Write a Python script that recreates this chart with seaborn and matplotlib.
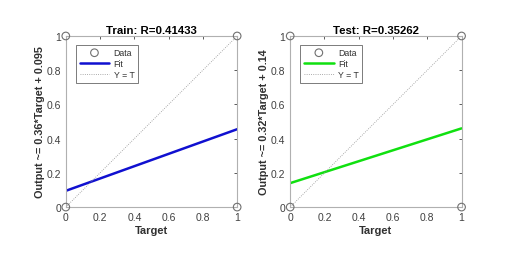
import numpy as np
import pandas as pd
import matplotlib
matplotlib.use("Agg")
import matplotlib.pyplot as plt
import seaborn as sns

# data
data_target = [0, 0, 1, 1]
data_output = [0, 1, 0, 1]
fit_target = [0, 1]
train_fit = [0.095, 0.455]
test_fit = [0.14, 0.46]
ident = [0, 1]
titles = ["Train: R=0.41433", "Test: R=0.35262"]
ylabels = ["Output ~= 0.36*Target + 0.095", "Output ~= 0.32*Target + 0.14"]
fit_colors = ["#1010d0", "#10e010"]
ticks = [0, 0.2, 0.4, 0.6, 0.8, 1]
tick_labels = ["0", "0.2", "0.4", "0.6", "0.8", "1"]

sns.set_style("white")
plt.rcParams['font.family'] = ['Liberation Sans', 'DejaVu Sans']

fig = plt.figure(figsize=(5.1, 2.55), dpi=100)
axes = [fig.add_axes([0.129, 0.184, 0.336, 0.671]),
        fig.add_axes([0.569, 0.184, 0.336, 0.671])]

fits = [train_fit, test_fit]
for i, ax in enumerate(axes):
    pts = pd.DataFrame({"Target": data_target, "Output": data_output})
    sns.scatterplot(data=pts, x="Target", y="Output", ax=ax, marker="o",
                    s=30, facecolor="none", edgecolor="#707070", linewidth=0.8,
                    label="Data", clip_on=False, zorder=5)
    fit_df = pd.DataFrame({"Target": fit_target, "Output": fits[i]})
    sns.lineplot(data=fit_df, x="Target", y="Output", ax=ax, color=fit_colors[i],
                 linewidth=1.8, label="Fit")
    id_df = pd.DataFrame({"Target": ident, "Output": ident})
    sns.lineplot(data=id_df, x="Target", y="Output", ax=ax, color="#909090",
                 linewidth=0.6, linestyle=":", label="Y = T")

    ax.set_xlim(0, 1)
    ax.set_ylim(0, 1)
    ax.set_xticks(ticks)
    ax.set_xticklabels(tick_labels)
    ax.set_yticks(ticks)
    ax.set_yticklabels(tick_labels)
    ax.tick_params(direction="in", length=2.5, width=0.6, colors="#404040",
                   labelsize=7.5, pad=3.5, top=True, right=True)
    for sp in ax.spines.values():
        sp.set_color("#b0b0b0")
        sp.set_linewidth(0.8)
    ax.set_title(titles[i], fontsize=8.2, fontweight="bold", color="#000000", pad=2)
    ax.set_xlabel("Target", fontsize=8, fontweight="bold", color="#303030", labelpad=2)
    ax.set_ylabel(ylabels[i], fontsize=7.8, fontweight="bold", color="#303030", labelpad=1)
    leg = ax.legend(loc="upper left", bbox_to_anchor=(0.06, 0.95), fontsize=6.3,
                    frameon=True, fancybox=False, handlelength=3.4,
                    borderpad=0.4, labelspacing=0.25, handletextpad=0.5,
                    borderaxespad=0)
    for t in leg.get_texts():
        t.set_color("#303030")
    leg.get_frame().set_edgecolor("#404040")
    leg.get_frame().set_linewidth(0.6)

fig.savefig("out.png", dpi=100)
